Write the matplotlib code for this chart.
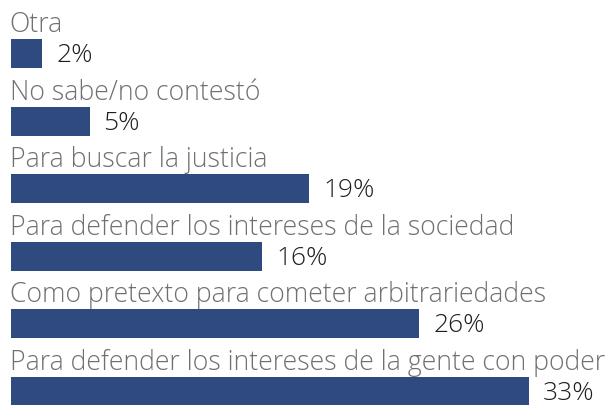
import matplotlib
matplotlib.use("Agg")
import matplotlib.pyplot as plt
import numpy as np

categories = [
    "Otra",
    "No sabe/no contestó",
    "Para buscar la justicia",
    "Para defender los intereses de la sociedad",
    "Como pretexto para cometer arbitrariedades",
    "Para defender los intereses de la gente con poder",
]
values = [2, 5, 19, 16, 26, 33]
value_labels = ["2%", "5%", "19%", "16%", "26%", "33%"]

BAR_COLOR = "#2f4a7f"
CAT_COLOR = "#707070"
VAL_COLOR = "#1e1e1e"

W, H = 616, 405
fig = plt.figure(figsize=(W / 100, H / 100), dpi=100)
ax = fig.add_axes([0, 0, 1, 1])

px_per_unit = 15.7      # horizontal pixels per percentage point
left_px = 11            # left margin in pixels
row_px = 67.6           # vertical spacing between rows in pixels
first_px = 53.5         # centre of the first bar in pixels from top
bar_px = 29             # bar thickness in pixels

ax.set_xlim(-left_px / px_per_unit, (W - left_px) / px_per_unit)
ax.set_ylim((H - first_px) / row_px, -first_px / row_px)
ax.axis("off")

y = np.arange(len(categories))
bar_h = bar_px / row_px
ax.barh(y, values, height=bar_h, color=BAR_COLOR, left=0)

gap = 14 / px_per_unit
for yi, v, cat, lab in zip(y, values, categories, value_labels):
    ax.text(-1.5 / px_per_unit, yi - bar_h / 2 - 7 / row_px, cat,
            ha="left", va="baseline", fontsize=19.2, color=CAT_COLOR,
            family="Open Sans", fontweight=300)
    ax.text(v + gap, yi + 2 / row_px, lab, ha="left", va="center",
            fontsize=19, color=VAL_COLOR, family="Open Sans", fontweight=300)

fig.savefig("out.png", dpi=100)
